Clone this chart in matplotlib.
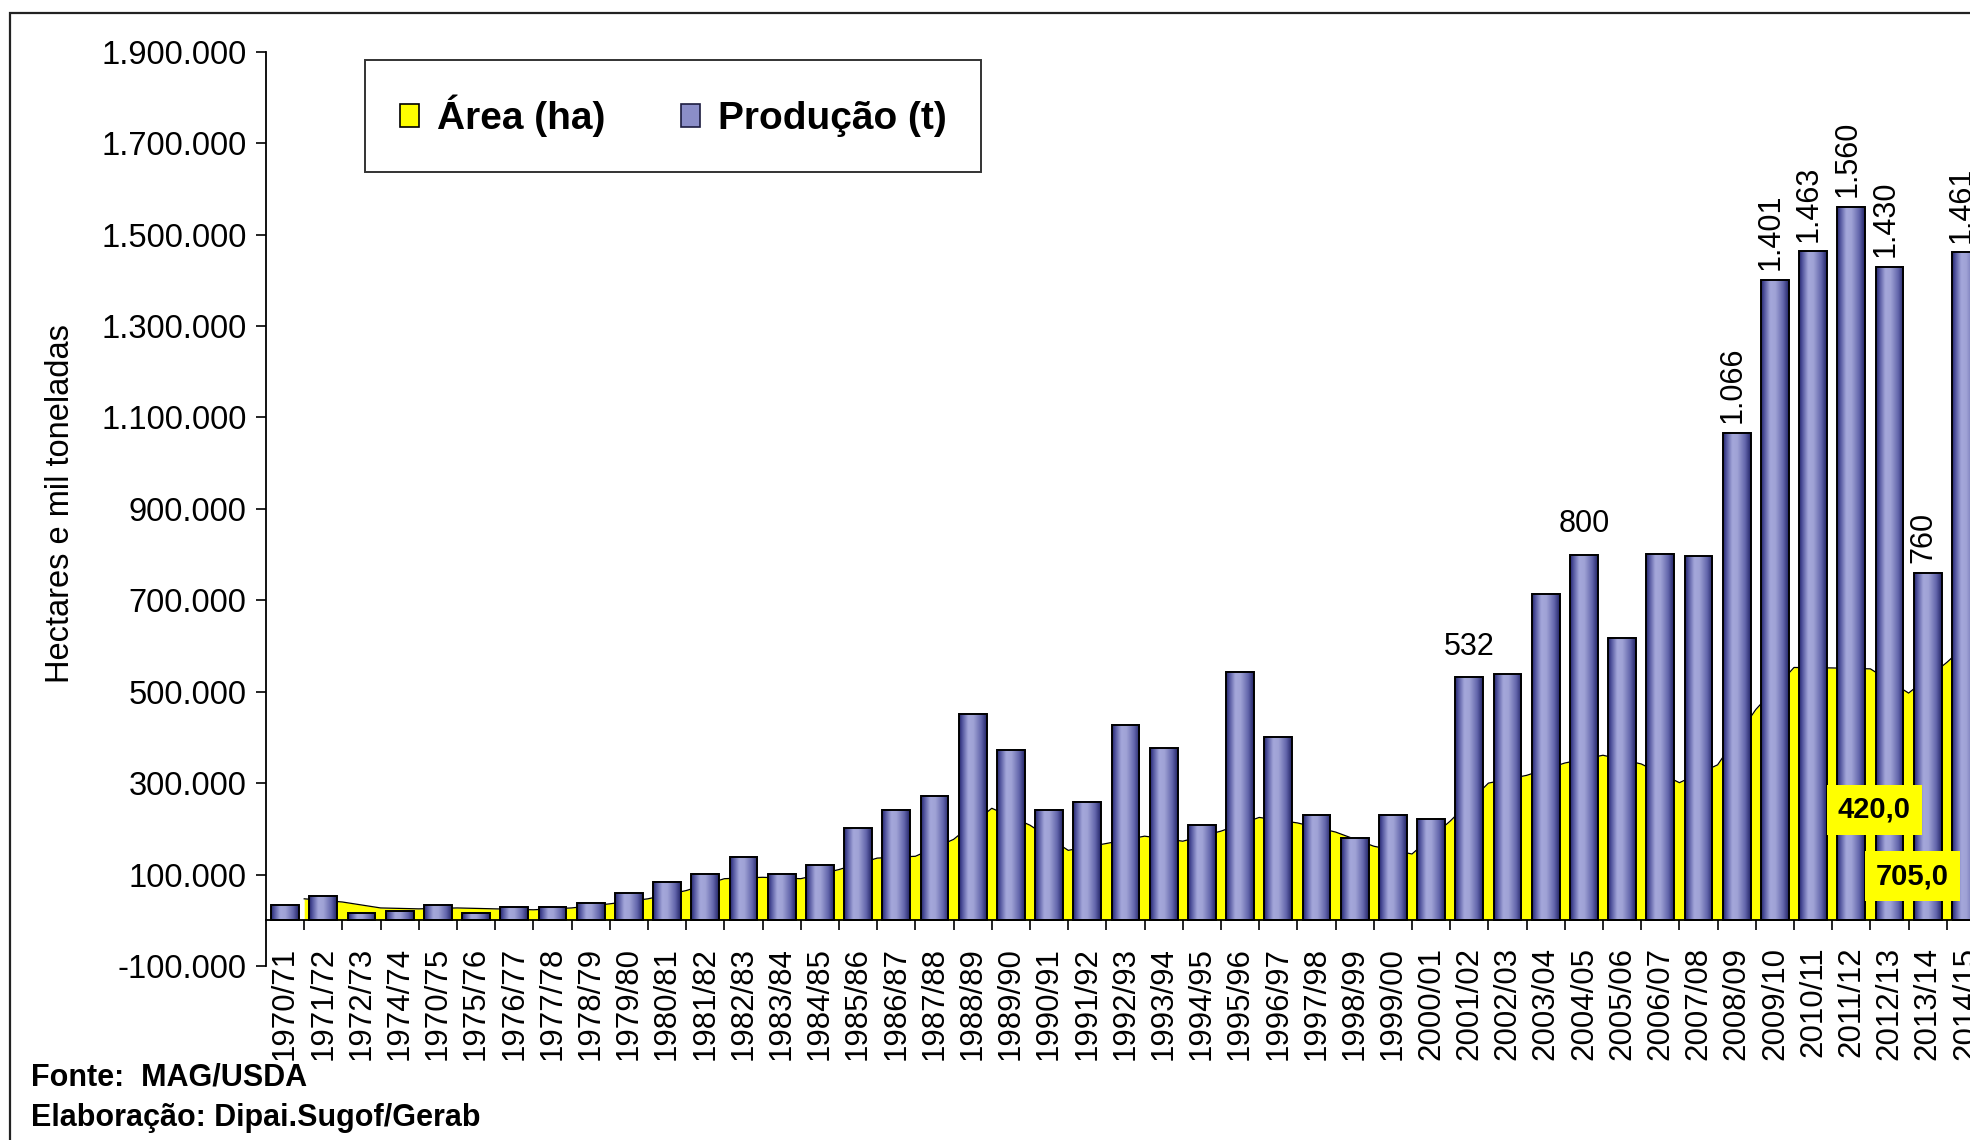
import numpy as np
import matplotlib

matplotlib.use("Agg")
import matplotlib.pyplot as plt
from matplotlib.colors import LinearSegmentedColormap
from matplotlib.patches import Patch, Rectangle

plt.rcParams["font.family"] = ["Liberation Sans", "DejaVu Sans"]

# safras (tick labels kept as printed in the original, typos included)
seasons = [
    "1970/71", "1971/72", "1972/73", "1974/74", "1970/75", "1975/76", "1976/77",
    "1977/78", "1978/79", "1979/80", "1980/81", "1981/82", "1982/83", "1983/84",
    "1984/85", "1985/86", "1986/87", "1987/88", "1988/89", "1989/90", "1990/91",
    "1991/92", "1992/93", "1993/94", "1994/95", "1995/96", "1996/97", "1997/98",
    "1998/99", "1999/00", "2000/01", "2001/02", "2002/03", "2003/04", "2004/05",
    "2005/06", "2006/07", "2007/08", "2008/09", "2009/10", "2010/11", "2011/12",
    "2012/13", "2013/14", "2014/15",
]

# produção (t)
producao = [
    34000, 54000, 16000, 20000, 34000, 16000, 29000, 29000, 38000, 59000,
    84000, 101000, 138000, 101000, 122000, 201000, 242000, 272000, 452000, 372000,
    242000, 259000, 427000, 376000, 209000, 543000, 401000, 230000, 180000, 230000,
    222000, 532000, 538000, 714000, 800000, 617000, 801000, 796000, 1066000, 1401000,
    1463000, 1560000, 1430000, 760000, 1461000,
]

# área (ha) - yellow area, read between the bars
area = [
    47000, 40000, 27000, 25000, 27000, 25000, 23000, 27000, 36000, 47000,
    65000, 91000, 94000, 91000, 111000, 136000, 140000, 177000, 245000, 208000,
    153000, 168000, 184000, 173000, 195000, 225000, 213000, 193000, 162000, 145000,
    217000, 300000, 317000, 344000, 361000, 342000, 301000, 340000, 461000, 553000,
    552000, 550000, 497000, 564000, 640000,
]

# seasons that carry a value label on the bar
labeled = ["2001/02", "2004/05", "2008/09", "2009/10", "2010/11", "2011/12",
           "2012/13", "2013/14", "2014/15"]
flat_labels = ["2001/02", "2004/05"]

area_notes = ["420,0", "705,0"]

yticks = np.arange(-100000, 1900001, 200000)


def br_num(v):
    return f"{v:,.0f}".replace(",", ".")


fig = plt.figure(figsize=(19.7, 11.4), dpi=100)
W, H = 1970, 1140
ax = fig.add_axes([266 / W, 1 - 966 / H, 1719 / W, 914.3 / H])

x = np.arange(len(seasons))
xa = x + 0.5

ax.fill_between(xa, area, 0, color="#ffff00", linewidth=0, zorder=1)
ax.plot(xa, area, color="black", linewidth=0.9, zorder=1.5)

bar_w = 0.725
bars = ax.bar(x, producao, width=bar_w, facecolor="none", edgecolor="black",
              linewidth=1.4, zorder=3)

bar_cmap = LinearSegmentedColormap.from_list(
    "bar",
    [(0.0, "#222366"), (0.1, "#4a4d98"), (0.33, "#a4a7da"),
     (0.52, "#a0a3d6"), (0.8, "#6265ab"), (1.0, "#222366")],
)
grad = np.linspace(0, 1, 128).reshape(1, -1)
for rect in bars:
    x0, w, h = rect.get_x(), rect.get_width(), rect.get_height()
    ax.imshow(grad, extent=(x0, x0 + w, 0, h), cmap=bar_cmap, aspect="auto",
              interpolation="bicubic", zorder=2)

# value labels (mil toneladas)
for i, s in enumerate(seasons):
    if s not in labeled:
        continue
    txt = br_num(producao[i] / 1000)
    if s in flat_labels:
        ax.annotate(txt, (x[i], producao[i]), xytext=(0, 16), textcoords="offset points",
                    ha="center", va="baseline", fontsize=22, zorder=5)
    else:
        ax.annotate(txt, (x[i], producao[i]), xytext=(-3, 7), textcoords="offset points",
                    ha="center", va="bottom", rotation=90, fontsize=22, zorder=5)

note_box = dict(facecolor="#ffff00", edgecolor="none", pad=8)
ax.text(41.6, 242000, area_notes[0], ha="center", va="center", fontsize=21,
        fontweight="bold", bbox=note_box, zorder=6)
ax.text(42.6, 96000, area_notes[1], ha="center", va="center", fontsize=21,
        fontweight="bold", bbox=note_box, zorder=6)

ax.set_xlim(-0.5, len(seasons) - 0.5)
ax.set_ylim(-100000, 1900000)

ax.spines["top"].set_visible(False)
ax.spines["right"].set_visible(False)
ax.spines["bottom"].set_position(("data", 0))
ax.spines["left"].set_linewidth(1.3)
ax.spines["bottom"].set_linewidth(1.3)

ax.set_yticks(yticks)
ax.set_yticklabels([br_num(v) for v in yticks], fontsize=23.5)
ax.tick_params(axis="y", direction="out", length=7, width=1.2, pad=7)

ax.set_xticks(x)
ax.set_xticklabels(seasons, rotation=90, fontsize=22.5)
ax.set_xticks(x[:-1] + 0.5, minor=True)
ax.tick_params(axis="x", which="major", length=0, pad=19)
ax.tick_params(axis="x", which="minor", direction="out", length=7, width=1.2)

ax.set_ylabel("Hectares e mil toneladas", fontsize=23.5)
ax.yaxis.set_label_coords(-0.1108, 0.506)

handles = [
    Patch(facecolor="#ffff00", edgecolor="black", linewidth=1.2, label="Área (ha)"),
    Patch(facecolor="#8b8ec8", edgecolor="#1c1c40", linewidth=1.2, label="Produção (t)"),
]
leg = fig.legend(handles=handles, loc="center", bbox_to_anchor=(673 / W, 1 - 116 / H),
                 ncol=2, frameon=True, fancybox=False, shadow=False,
                 prop={"size": 28, "weight": "bold"}, borderpad=0.9,
                 handlelength=0.5, handleheight=0.55, handletextpad=0.45,
                 columnspacing=1.95)
leg.get_frame().set_edgecolor("black")
leg.get_frame().set_linewidth(1.4)

fig.text(31 / W, 1 - 1078 / H, "Fonte:  MAG/USDA", fontsize=22, fontweight="bold",
         va="center", ha="left")
fig.text(31 / W, 1 - 1118 / H, "Elaboração: Dipai.Sugof/Gerab", fontsize=22,
         fontweight="bold", va="center", ha="left")

# outer frame (right and bottom edges fall outside the picture)
fig.patches.append(Rectangle((10 / W, -0.05), 1.2, 1 - 12.5 / H + 0.05, fill=False,
                             edgecolor="#222222", linewidth=1.6,
                             transform=fig.transFigure, figure=fig))

fig.savefig("out.png", dpi=100)
